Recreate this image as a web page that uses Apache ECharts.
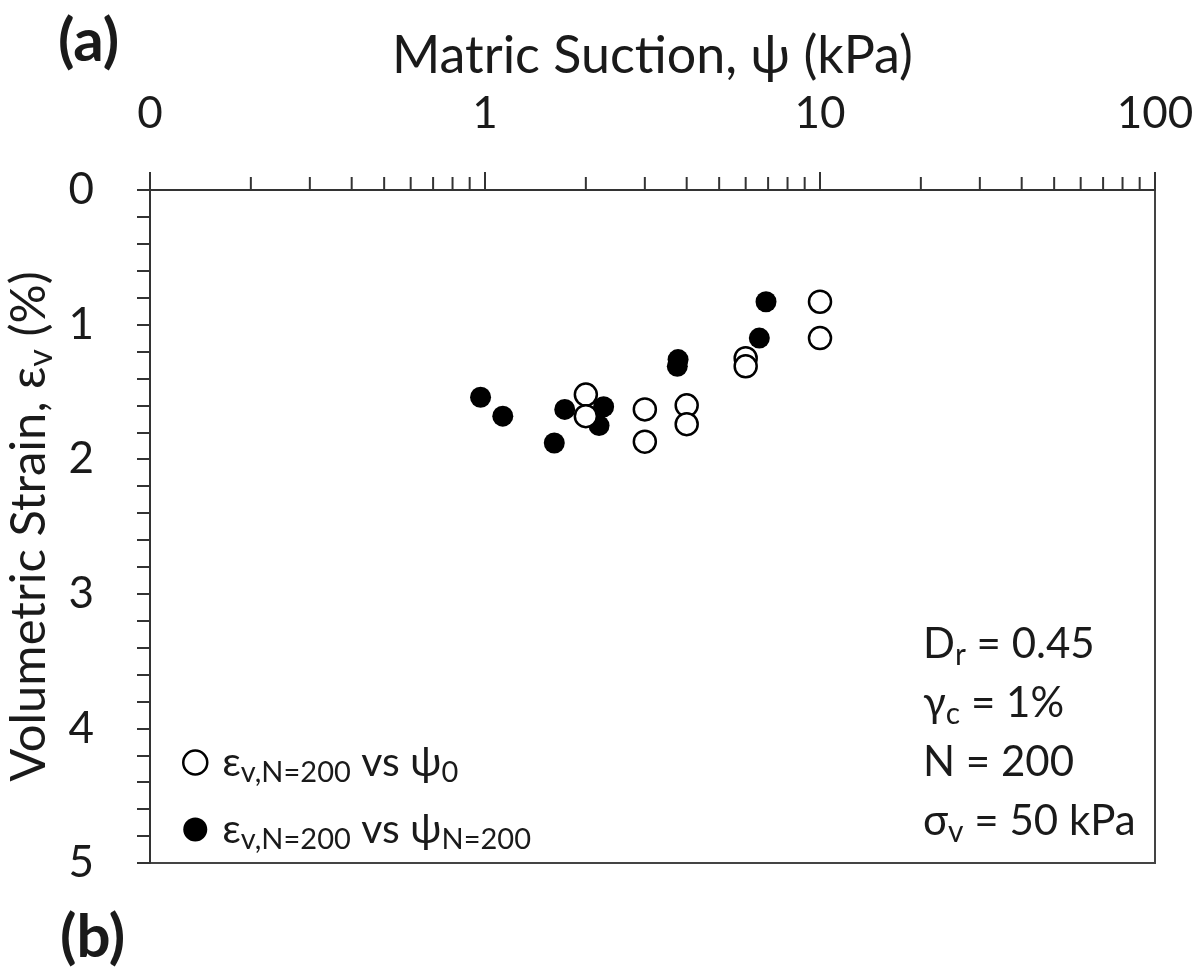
<!DOCTYPE html>
<html>
<head>
<meta charset="utf-8">
<script src="https://cdn.jsdelivr.net/npm/echarts@6/dist/echarts.min.js"></script>
<style>
html,body{margin:0;padding:0;background:#fff;}
#chart{width:1203px;height:971px;}
</style>
</head>
<body>
<div id="chart"></div>
<script>
// Matric suction (kPa) and volumetric strain (%)
var openX = [2.0, 2.0, 3.0, 3.0, 4.0, 4.0, 6.0, 6.0, 10.0, 10.0];
var openY = [1.52, 1.68, 1.63, 1.87, 1.60, 1.74, 1.25, 1.31, 0.83, 1.10];
var filledX = [0.97, 1.13, 1.73, 2.26, 2.19, 1.61, 3.77, 3.75, 6.59, 6.90];
var filledY = [1.54, 1.68, 1.63, 1.61, 1.75, 1.88, 1.26, 1.31, 1.10, 0.83];
var xMinorTicks = [0.2, 0.3, 0.4, 0.5, 0.6, 0.7, 0.8, 0.9, 2, 3, 4, 5, 6, 7, 8, 9, 20, 30, 40, 50, 60, 70, 80, 90];
var xTickLabels = {0.1: '0', 1: '1', 10: '10', 100: '100'};
var yTickLabels = ['0', '1', '2', '3', '4', '5'];

var FONT = 'Lato';
var TXT = '#1a1a1a';

function pairs(xs, ys) { return xs.map(function (x, i) { return [x, ys[i]]; }); }

var chart = echarts.init(document.getElementById('chart'), null, {renderer: 'canvas'});

var openName = 'open';
var filledName = 'filled';

var option = {
  backgroundColor: '#fff',
  animation: false,
  textStyle: {fontFamily: FONT, color: TXT},
  grid: {left: 150, top: 190, right: 48, bottom: 108, containLabel: false, outerBoundsMode: 'none',
         show: true, borderColor: '#444', borderWidth: 2, backgroundColor: 'transparent'},
  xAxis: {
    type: 'log', logBase: 10, min: 0.1, max: 100, position: 'top',
    name: 'Matric Suction, ψ (kPa)', nameLocation: 'middle', nameGap: 108,
    nameTextStyle: {fontFamily: FONT, fontSize: 52, color: TXT},
    axisLine: {show: true, lineStyle: {color: '#333', width: 2}},
    axisTick: {show: true, length: 18, lineStyle: {color: '#333', width: 2}},
    axisLabel: {
      margin: 54, fontFamily: FONT, fontSize: 44, color: TXT,
      formatter: function (v) {
        var k = Math.round(Math.log10(v));
        var key = Math.pow(10, k);
        return xTickLabels[key] !== undefined ? xTickLabels[key] : '';
      }
    },
    splitLine: {show: false}
  },
  yAxis: {
    type: 'value', min: 0, max: 5, interval: 1, inverse: true,
    name: '{m|Volumetric Strain, ε}{s|v}{m| (%)}', nameLocation: 'middle', nameGap: 92,
    nameTextStyle: {
      fontFamily: FONT, color: TXT,
      rich: {
        m: {fontFamily: FONT, fontSize: 49, color: TXT, lineHeight: 56},
        s: {fontFamily: FONT, fontSize: 34, color: TXT, lineHeight: 32, padding: [22, 0, 0, 0]}
      }
    },
    axisLine: {show: true, lineStyle: {color: '#333', width: 2}},
    axisTick: {show: true, length: 13, lineStyle: {color: '#333', width: 2}},
    minorTick: {show: true, splitNumber: 5, length: 13, lineStyle: {color: '#333', width: 2}},
    axisLabel: {
      margin: 56, fontFamily: FONT, fontSize: 44, color: TXT,
      formatter: function (v) { return yTickLabels[Math.round(v)]; }
    },
    splitLine: {show: false}
  },
  legend: {
    left: 177, top: 733, orient: 'vertical', itemGap: 18,
    itemWidth: 24, itemHeight: 24,
    data: [
      {name: openName, icon: 'circle', itemStyle: {color: '#fff', borderColor: '#000', borderWidth: 2.5}},
      {name: filledName, icon: 'circle', itemStyle: {color: '#000', borderColor: '#000', borderWidth: 0}}
    ],
    formatter: function (name) {
      if (name === openName) return '{m|ε}{s|v,N=200}{m| vs ψ}{s|0}';
      return '{m|ε}{s|v,N=200}{m| vs ψ}{s|N=200}';
    },
    textStyle: {
      fontFamily: FONT, color: TXT, padding: [0, 0, 0, 10],
      rich: {
        m: {fontFamily: FONT, fontSize: 41, color: TXT, lineHeight: 42},
        s: {fontFamily: FONT, fontSize: 29, color: TXT, lineHeight: 24, padding: [20, 0, 0, 0]}
      }
    }
  },
  graphic: [
    {type: 'text', left: 58, top: 12, style: {text: '(a)', fontFamily: FONT, fontWeight: 'bold', fontSize: 60, fill: TXT}},
    {type: 'text', left: 60, top: 908, style: {text: '(b)', fontFamily: FONT, fontWeight: 'bold', fontSize: 60, fill: TXT}},
    {type: 'text', left: 923, top: 618, style: {
      text: '{m|D}{s|r}{m| = 0.45}\n{m|γ}{s|c}{m| = 1%}\n{m|N = 200}\n{m|σ}{s|v}{m| = 50 kPa}',
      fill: TXT, fontFamily: FONT,
      rich: {
        m: {fontFamily: FONT, fontSize: 42, fill: TXT, lineHeight: 59},
        s: {fontFamily: FONT, fontSize: 30, fill: TXT, lineHeight: 30, padding: [22, 0, 0, 0]}
      }
    }}
  ],
  series: [
    {
      name: 'minorTicks', type: 'custom', silent: true, clip: false,
      data: xMinorTicks.map(function (v) { return [v, 0]; }),
      renderItem: function (params, api) {
        var p = api.coord([api.value(0), 0]);
        return {type: 'line', shape: {x1: p[0], y1: p[1], x2: p[0], y2: p[1] - 13}, style: {stroke: '#333', lineWidth: 2}};
      },
      z: 1
    },
    {
      name: filledName, type: 'scatter', symbol: 'circle', symbolSize: 21,
      itemStyle: {color: '#000', opacity: 1},
      data: pairs(filledX, filledY), z: 3
    },
    {
      name: openName, type: 'scatter', symbol: 'circle', symbolSize: 22,
      itemStyle: {color: '#fff', borderColor: '#000', borderWidth: 2.5, opacity: 1},
      data: pairs(openX, openY), z: 4
    }
  ]
};
chart.setOption(option);
</script>
</body>
</html>
